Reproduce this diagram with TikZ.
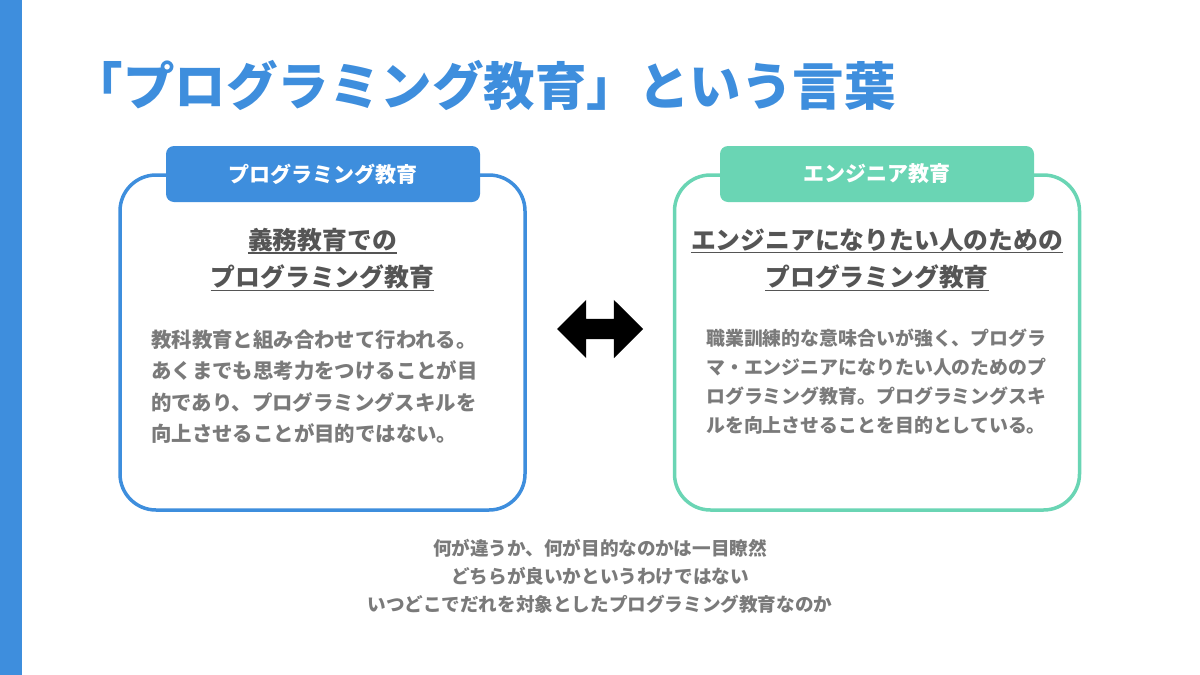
\documentclass[tikz,border=0pt]{standalone}
\usepackage{fontspec}
\setmainfont{Noto Sans CJK JP}
\usepackage{xcolor}
\usetikzlibrary{shapes.arrows}

\definecolor{slideblue}{RGB}{62,142,221}
\definecolor{slideteal}{RGB}{106,213,180}
\definecolor{headgray}{RGB}{85,85,85}
\definecolor{bodygray}{RGB}{122,122,122}

\tikzset{
  card/.style={draw, line width=3.5pt, rounded corners=36pt, fill=white,
    minimum width=405pt, minimum height=335pt, inner sep=0pt},
  tab/.style={rounded corners=8pt, minimum width=314pt, minimum height=56pt,
    inner sep=0pt, text=white, font=\bfseries\fontsize{21}{21}\selectfont},
  heading/.style={inner xsep=0pt, inner ysep=1pt, text=headgray,
    font=\bfseries\fontsize{24.8}{24.8}\selectfont},
  underbar/.style={headgray, line width=1.6pt},
  bodytext/.style={align=left, text=bodygray, inner sep=0pt, anchor=north west},
}

\begin{document}
\begin{tikzpicture}[x=1pt,y=1pt,yscale=-1,xscale=1]
\path[use as bounding box] (0,0) rectangle (1200,675);

%Shape: Rectangle (left strip)
\fill[slideblue] (0,0) rectangle (22,675);

% Title Node
\draw (896,85) node [anchor=east, inner sep=0pt, text=slideblue, font=\bfseries\fontsize{51.5}{51.5}\selectfont] (title) {「プログラミング教育」という言葉};

%Shape: Rounded Rect (left card)
\draw (322.5,342.5) node [card, draw=slideblue] (leftcard) {};
\draw (323,174) node [tab, fill=slideblue] (lefttab) {プログラミング教育};
% Text Node
\draw (322.5,240) node [heading] (lefthead1) {義務教育での};
\draw (322.5,277) node [heading] (lefthead2) {プログラミング教育};
\draw [underbar] (lefthead1.south west) -- (lefthead1.south east);
\draw [underbar] (lefthead2.south west) -- (lefthead2.south east);
% Text Node
\draw (151,330) node [bodytext, font=\bfseries\fontsize{20.4}{31.2}\selectfont] (leftbody) {教科教育と組み合わせて行われる。\\
あくまでも思考力をつけることが目\\
的であり、プログラミングスキルを\\
向上させることが目的ではない。};

%Shape: Double Arrow
\draw (600,329) node [double arrow, fill=black, inner sep=10pt, minimum height=86pt,
  double arrow head extend=19pt, double arrow head indent=0pt] (swap) {};

%Shape: Rounded Rect (right card)
\draw (877,342.5) node [card, draw=slideteal] (rightcard) {};
\draw (877,174) node [tab, fill=slideteal] (righttab) {エンジニア教育};
% Text Node
\draw (877,240) node [heading] (righthead1) {エンジニアになりたい人のための};
\draw (877,277) node [heading] (righthead2) {プログラミング教育};
\draw [underbar] (righthead1.south west) -- (righthead1.south east);
\draw [underbar] (righthead2.south west) -- (righthead2.south east);
% Text Node
\draw (706,328.5) node [bodytext, font=\bfseries\fontsize{18.9}{29.2}\selectfont] (rightbody) {職業訓練的な意味合いが強く、プログラ\\
マ・エンジニアになりたい人のためのプ\\
ログラミング教育。プログラミングスキ\\
ルを向上させることを目的としている。};

% Text Node (summary)
\draw (600,576) node [align=center, inner sep=0pt, text=bodygray, font=\bfseries\fontsize{18.6}{28}\selectfont] (summary) {何が違うか、何が目的なのかは一目瞭然\\
どちらが良いかというわけではない\\
いつどこでだれを対象としたプログラミング教育なのか};

\end{tikzpicture}
\end{document}
